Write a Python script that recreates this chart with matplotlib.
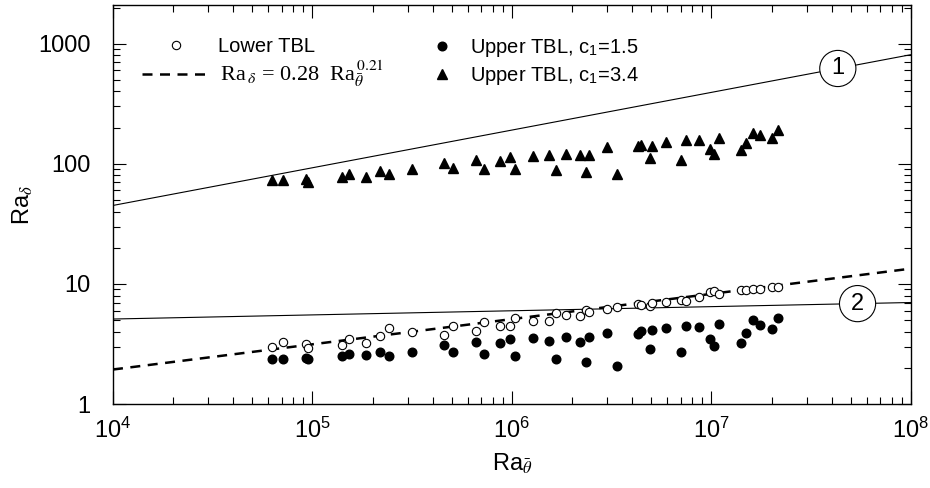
import numpy as np
import matplotlib
matplotlib.use('Agg')
import matplotlib.pyplot as plt
from matplotlib.lines import Line2D
from matplotlib.ticker import FixedLocator, FuncFormatter, LogLocator, NullFormatter

plt.rcParams['font.family'] = ['Liberation Sans', 'DejaVu Sans']
plt.rcParams['mathtext.fontset'] = 'stix'

# Rayleigh number based on mean temperature (shared by all three series)
ra_theta = [6.30e4, 7.15e4, 9.29e4, 9.48e4, 1.40e5, 1.52e5, 1.85e5, 2.19e5, 2.42e5,
            3.16e5, 4.55e5, 5.09e5, 6.62e5, 7.27e5, 8.75e5, 9.82e5, 1.038e6, 1.274e6,
            1.538e6, 1.657e6, 1.87e6, 2.20e6, 2.36e6, 2.44e6, 3.01e6, 3.37e6, 4.29e6,
            4.46e6, 4.94e6, 5.06e6, 5.95e6, 7.00e6, 7.43e6, 8.65e6, 9.84e6, 1.03e7,
            1.094e7, 1.41e7, 1.495e7, 1.62e7, 1.76e7, 2.02e7, 2.16e7]

# boundary layer Rayleigh numbers
ra_lower = [3.00, 3.27, 3.15, 2.91, 3.10, 3.48, 3.20, 3.71, 4.27, 4.00, 3.74, 4.48,
            4.07, 4.80, 4.49, 4.48, 5.16, 4.94, 4.92, 5.70, 5.52, 5.41, 6.07, 5.81,
            6.15, 6.47, 6.81, 6.68, 6.59, 6.90, 7.12, 7.36, 7.26, 7.84, 8.62, 8.79,
            8.20, 8.91, 8.91, 9.03, 9.03, 9.39, 9.49]
ra_upper_c15 = [2.36, 2.36, 2.40, 2.35, 2.53, 2.60, 2.55, 2.71, 2.51, 2.71, 3.10, 2.69,
                3.27, 2.60, 3.24, 3.48, 2.53, 3.53, 3.37, 2.36, 3.58, 3.27, 2.22, 3.59,
                3.91, 2.09, 3.85, 4.07, 2.88, 4.12, 4.27, 2.73, 4.42, 4.38, 3.49, 3.03,
                4.64, 3.24, 3.88, 4.98, 4.53, 4.18, 5.23]
ra_upper_c34 = [72.6, 73.6, 75.0, 71.2, 78.3, 83.0, 78.3, 87.4, 82.0, 90.0, 101.3, 91.7,
                108.0, 90.9, 104.5, 114.4, 90.3, 116.6, 117.3, 88.0, 119.5, 117.3, 85.8,
                118.9, 136.7, 82.6, 139.4, 143.9, 112.2, 141.3, 150.5, 107.4, 156.4,
                157.6, 133.4, 120.5, 165.0, 129.1, 148.8, 180.3, 173.5, 162.5, 191.9]

# power-law fit and the two reference lines
fit_coef = 0.28
fit_exp = 0.21
line_ra = [1e4, 1e8]
line_1 = [45.0, 810.0]
line_2 = [5.1, 7.0]
label_ra = [4.3e7, 5.4e7]

fig = plt.figure(figsize=(9.3, 4.88), dpi=100)
ax = fig.add_axes([0.1215, 0.1721, 0.858, 0.8177])
ax.set_xscale('log')
ax.set_yscale('log')

ax.plot(line_ra, line_1, color='black', lw=0.8, zorder=1)
ax.plot(line_ra, line_2, color='black', lw=0.8, zorder=1)
fit_x = np.array(line_ra)
ax.plot(fit_x, fit_coef * fit_x ** fit_exp, color='black', lw=1.8,
        ls=(0, (4, 3)), zorder=1)

ax.plot(ra_theta, ra_lower, 'o', ms=6.0, mfc='white', mec='black', mew=0.8, zorder=3)
ax.plot(ra_theta, ra_upper_c15, 'o', ms=6.2, color='black', zorder=3)
ax.plot(ra_theta, ra_upper_c34, '^', ms=6.5, color='black', zorder=3)

# numbered circles sitting on the reference lines
for num, lx, line in (('1', label_ra[0], line_1), ('2', label_ra[1], line_2)):
    ly = 10 ** np.interp(np.log10(lx), np.log10(line_ra), np.log10(line))
    ax.text(lx, ly, num, ha='center', va='center', fontsize=17, zorder=4,
            bbox=dict(boxstyle='circle,pad=0.3', fc='white', ec='black', lw=0.8))

ax.set_xlim(1e4, 1e8)
ax.set_ylim(1, 2100)
ax.yaxis.set_major_locator(FixedLocator([1, 10, 100, 1000]))
ax.yaxis.set_major_formatter(FuncFormatter(lambda v, p: f'{v:g}'))
ax.yaxis.set_minor_locator(LogLocator(subs=np.arange(2, 10)))
ax.yaxis.set_minor_formatter(NullFormatter())
ax.xaxis.set_major_locator(FixedLocator([1e4, 1e5, 1e6, 1e7, 1e8]))
ax.xaxis.set_minor_locator(LogLocator(subs=np.arange(2, 10), numticks=20))
ax.xaxis.set_minor_formatter(NullFormatter())

ax.tick_params(which='both', direction='in', top=True, right=True, width=0.8)
ax.tick_params(which='major', length=9.5, labelsize=17)
ax.tick_params(which='minor', length=4.8)
ax.tick_params(axis='y', pad=16)
ax.tick_params(axis='x', pad=10)
for sp in ax.spines.values():
    sp.set_linewidth(1.0)

ax.set_xlabel(r'Ra$_{\bar{\theta}}$', fontsize=17, labelpad=6)
ax.set_ylabel(r'Ra$_{\delta}$', fontsize=17, labelpad=2)

# legend in two columns
left_handles = [
    Line2D([], [], marker='o', ls='none', ms=6.0, mfc='white', mec='black', mew=0.8),
    Line2D([], [], color='black', lw=1.8, ls=(0, (4, 3))),
]
left_labels = ['Lower TBL',
               r'$\,$Ra$_{\,\delta}$ = 0.28  Ra$_{\bar{\theta}}^{\,0.21}$']
leg1 = ax.legend(left_handles, left_labels, loc='upper left',
                 bbox_to_anchor=(0.026, 0.94), frameon=False, fontsize=14.5,
                 handlelength=3.4, handletextpad=0.4, labelspacing=0.12,
                 borderaxespad=0)
leg1.get_texts()[1].set_family('Liberation Serif')
leg1.get_texts()[1].set_fontsize(16)
ax.add_artist(leg1)

right_handles = [
    Line2D([], [], marker='o', ls='none', ms=6.2, color='black'),
    Line2D([], [], marker='^', ls='none', ms=6.5, color='black'),
]
right_labels = [r'Upper TBL, c$_{\mathdefault{1}}$=1.5',
                r'Upper TBL, c$_{\mathdefault{1}}$=3.4']
ax.legend(right_handles, right_labels, loc='upper left',
          bbox_to_anchor=(0.382, 0.94), frameon=False, fontsize=14.5,
          handlelength=1.6, handletextpad=0.6, labelspacing=0.3,
          borderaxespad=0)

fig.savefig('out.png', dpi=100)
